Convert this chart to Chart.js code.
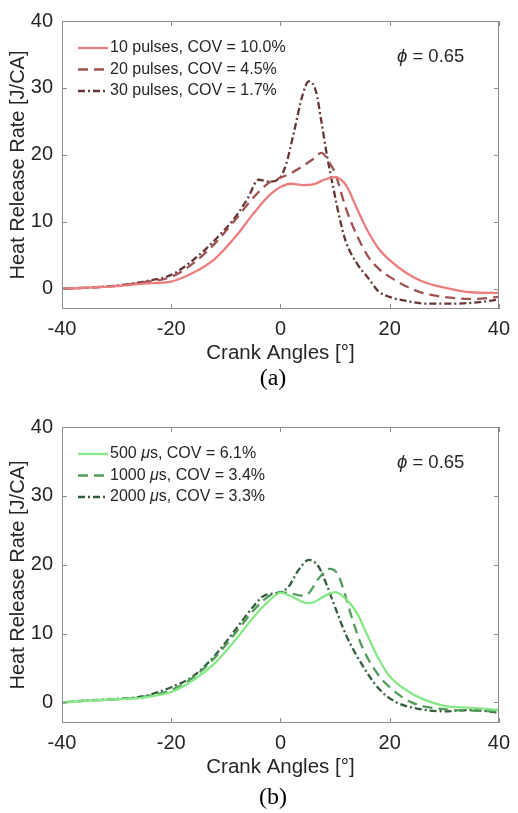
<!DOCTYPE html>
<html>
<head>
<meta charset="utf-8">
<script src="https://cdn.jsdelivr.net/npm/chart.js@4.4.0/dist/chart.umd.min.js"></script>
<style>
    body { margin: 0; background: #fff; width: 518px; height: 813px; position: relative; overflow: hidden; }
    .panel { position: absolute; left: 0; }
    .cap { position: absolute; width: 60px; text-align: center; font-family: "Liberation Serif", "Times New Roman", serif; font-size: 24px; color: #000; }
</style>
</head>
<body>
<div class="panel" style="top:0"><canvas id="chartA" width="518" height="370"></canvas></div>
<div class="cap" style="left:243px;top:364px">(a)</div>
<div class="panel" style="top:400px"><canvas id="chartB" width="518" height="384"></canvas></div>
<div class="cap" style="left:243px;top:783px">(b)</div>

<script>
// ========== DATA ==========
const xTicks = [-40, -20, 0, 20, 40];
const yTicks = [0, 10, 20, 30, 40];
const phiLabel = '\u03D5 = 0.65';

// (a) pulses
const p10X = [-40, -35, -30, -25, -20, -16, -12, -8, -5, -2, 0, 2, 4, 6, 8, 10, 12, 14, 16, 18, 20, 23, 26, 30, 35, 40];
const p10Y = [0, 0.2, 0.4, 0.8, 1.1, 2.4, 4.5, 8.0, 11.2, 14.0, 15.2, 15.7, 15.5, 15.6, 16.3, 16.7, 15.5, 12.0, 8.6, 6.0, 4.3, 2.4, 1.1, 0.2, -0.5, -0.6];

const p20X = [-40, -35, -30, -25, -20, -16, -12, -8, -5, -2, 0, 2, 4, 6, 7.5, 9, 10, 12, 14, 16, 18, 20, 23, 26, 30, 35, 40];
const p20Y = [0, 0.2, 0.45, 1.0, 1.8, 3.8, 6.8, 10.6, 13.6, 15.9, 16.6, 17.3, 18.3, 19.4, 20.3, 18.8, 17.3, 12.0, 8.0, 4.9, 3.0, 1.8, 0.4, -0.6, -1.2, -1.5, -1.2];

const p30X = [-40, -35, -30, -25, -20, -16, -12, -8, -6, -4, -2, 0, 1, 2.5, 4, 5.2, 6.5, 7.5, 8.5, 9.7, 11, 12, 14, 16, 18, 20, 23, 27, 32, 36, 40];
const p30Y = [0, 0.2, 0.5, 1.1, 2.1, 4.3, 7.3, 11.0, 13.5, 16.3, 16.0, 16.7, 18.5, 23.5, 28.8, 31.0, 29.5, 25.0, 20.0, 15.0, 10.0, 7.0, 3.8, 1.7, -0.4, -1.2, -1.8, -2.2, -2.2, -2.0, -1.6];

// (b) pulse widths
const u500X = [-40, -35, -30, -25, -20, -16, -12, -8, -5, -2, 0, 2, 4, 5, 6, 8, 10, 12, 14, 16, 18, 20, 23, 26, 30, 35, 40];
const u500Y = [0, 0.25, 0.45, 0.7, 1.5, 3.2, 5.7, 9.3, 12.3, 14.8, 15.9, 15.4, 14.6, 14.4, 14.5, 15.4, 16.0, 15.0, 13.0, 9.6, 6.3, 3.8, 1.8, 0.5, -0.5, -0.8, -1.1];

const u1000X = [-40, -35, -30, -25, -20, -16, -12, -8, -5, -2, 0, 2, 4, 5, 7, 9, 10.5, 12, 13, 15, 18, 20, 24, 30, 35, 40];
const u1000Y = [0, 0.25, 0.45, 0.8, 1.8, 3.6, 6.5, 10.3, 13.3, 15.5, 16.0, 15.8, 15.5, 15.7, 18.0, 19.4, 18.6, 15.2, 12.5, 8.0, 3.9, 2.2, 0.0, -1.0, -1.2, -1.3];

const u2000X = [-40, -35, -30, -25, -20, -16, -12, -8, -5, -3, 0, 1.5, 3.3, 5.2, 7, 8.5, 9.5, 12, 15, 18, 21, 25, 30, 35, 40];
const u2000Y = [0, 0.3, 0.5, 0.9, 2.2, 3.8, 6.8, 10.8, 13.9, 15.5, 16.0, 16.8, 19.2, 20.7, 19.7, 17.0, 14.9, 9.8, 5.4, 2.0, 0.1, -0.9, -1.3, -1.1, -1.5];

const FONT = '"Liberation Sans", Arial, sans-serif';
const TEXT = '#262626';

function pairs(xs, ys) {
    return xs.map((x, i) => ({ x: x, y: ys[i] }));
}

function series(label, xs, ys, color, dash) {
    return {
        label: label,
        data: pairs(xs, ys),
        borderColor: color,
        borderDash: dash,
        borderWidth: 2.3,
        pointRadius: 0,
        fill: false,
        cubicInterpolationMode: 'monotone'
    };
}

// draw a string, putting greek letters in italic like the matlab tex output
function drawRich(ctx, str, x, y, size) {
    const parts = str.split(/([\u03BC\u03D5])/);
    parts.forEach(p => {
        if (!p) return;
        const greek = p === '\u03BC' || p === '\u03D5';
        ctx.font = (greek ? 'italic ' : '') + size + 'px ' + FONT;
        ctx.fillText(p, x, y);
        x += ctx.measureText(p).width;
    });
}

const frameAndLegend = {
    id: 'frameAndLegend',
    afterDatasetsDraw(chart) {
        const { ctx, chartArea: a, scales } = chart;
        const sx = scales.x, sy = scales.y;
        ctx.save();

        // box with inward ticks
        ctx.strokeStyle = '#8c8c8c';
        ctx.lineWidth = 1;
        ctx.setLineDash([]);
        ctx.strokeRect(Math.round(a.left) + 0.5, Math.round(a.top) + 0.5, Math.round(a.width) - 1, Math.round(a.height) - 1);
        ctx.beginPath();
        xTicks.forEach(v => {
            const px = Math.round(sx.getPixelForValue(v)) + 0.5;
            ctx.moveTo(px, a.bottom); ctx.lineTo(px, a.bottom - 5);
            ctx.moveTo(px, a.top); ctx.lineTo(px, a.top + 5);
        });
        yTicks.forEach(v => {
            const py = Math.round(sy.getPixelForValue(v)) + 0.5;
            ctx.moveTo(a.left, py); ctx.lineTo(a.left + 5, py);
            ctx.moveTo(a.right, py); ctx.lineTo(a.right - 5, py);
        });
        ctx.stroke();

        // legend
        ctx.textBaseline = 'middle';
        chart.data.datasets.forEach((ds, i) => {
            const ly = a.top + 27 + i * 21.5;
            ctx.strokeStyle = ds.borderColor;
            ctx.lineWidth = 2.3;
            ctx.setLineDash(ds.borderDash || []);
            ctx.beginPath();
            ctx.moveTo(a.left + 16, ly);
            ctx.lineTo(a.left + 46, ly);
            ctx.stroke();
            ctx.setLineDash([]);
            ctx.fillStyle = TEXT;
            drawRich(ctx, ds.label, a.left + 48, ly, 16);
        });

        // equivalence ratio note
        ctx.fillStyle = TEXT;
        drawRich(ctx, phiLabel, a.left + 335, a.top + 36, 18.5);
        ctx.restore();
    }
};

function makeOptions(padTop) {
    return {
        responsive: false,
        animation: false,
        layout: { padding: { top: padTop, right: 11, left: 2, bottom: 0 } },
        plugins: {
            legend: { display: false },
            tooltip: { enabled: false }
        },
        scales: {
            x: {
                type: 'linear',
                min: -40,
                max: 40,
                grid: { display: false, drawTicks: false, tickLength: 0 },
                border: { display: false },
                afterBuildTicks: s => { s.ticks = xTicks.map(v => ({ value: v })); },
                afterFit: s => { s.height = 61; },
                ticks: { color: TEXT, font: { size: 20, family: FONT }, padding: 8, maxRotation: 0 },
                title: { display: true, text: 'Crank Angles [°]', color: TEXT, font: { size: 20.5, family: FONT }, padding: 4 }
            },
            y: {
                type: 'linear',
                min: -3,
                max: 40,
                grid: { display: false, drawTicks: false, tickLength: 0 },
                border: { display: false },
                afterBuildTicks: s => { s.ticks = yTicks.map(v => ({ value: v })); },
                afterFit: s => { s.width = 60; },
                ticks: { color: TEXT, font: { size: 20, family: FONT }, padding: 9 },
                title: { display: true, text: 'Heat Release Rate [J/CA]', color: TEXT, font: { size: 20, family: FONT }, padding: 4 }
            }
        }
    };
}

new Chart(document.getElementById('chartA'), {
    type: 'line',
    data: {
        datasets: [
            series('10 pulses, COV = 10.0%', p10X, p10Y, '#ec7d7d', []),
            series('20 pulses, COV = 4.5%', p20X, p20Y, '#9e5252', [10, 6]),
            series('30 pulses, COV = 1.7%', p30X, p30Y, '#643636', [7, 3, 2, 3])
        ]
    },
    options: makeOptions(12),
    plugins: [frameAndLegend]
});

new Chart(document.getElementById('chartB'), {
    type: 'line',
    data: {
        datasets: [
            series('500 \u03BCs, COV = 6.1%', u500X, u500Y, '#86e886', []),
            series('1000 \u03BCs, COV = 3.4%', u1000X, u1000Y, '#529c5a', [10, 6]),
            series('2000 \u03BCs, COV = 3.3%', u2000X, u2000Y, '#345e3e', [7, 3, 2, 3])
        ]
    },
    options: makeOptions(27),
    plugins: [frameAndLegend]
});
</script>
</body>
</html>
